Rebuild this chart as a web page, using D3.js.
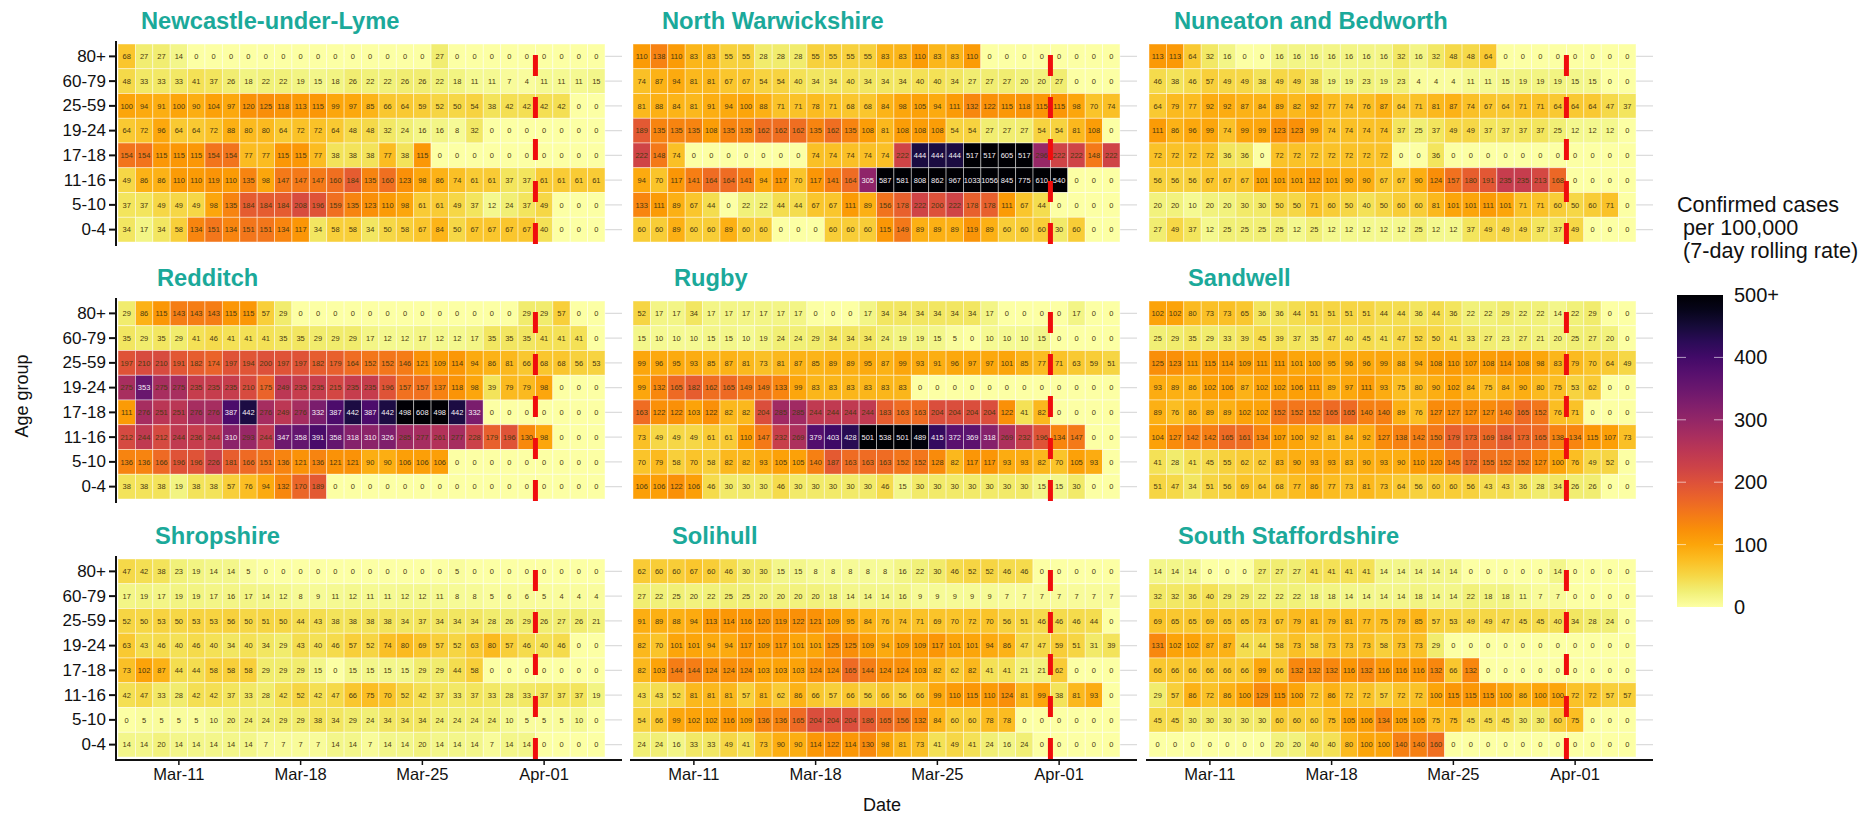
<!DOCTYPE html>
<html>
<head>
<meta charset="utf-8">
<script src="https://cdn.jsdelivr.net/npm/d3@7"></script>
<style>
  body { margin: 0; background: #fff; }
  text { font-family: "Liberation Sans", Arial, sans-serif; }
</style>
</head>
<body>
<svg id="chart" width="1872" height="816"></svg>
<script>
const ageGroups = ['80+', '60-79', '25-59', '19-24', '17-18', '11-16', '5-10', '0-4']
const legendTicks = [0, 100, 200, 300, 400, 500]
const dateTicks = [new Date(2021, 2, 11), new Date(2021, 2, 18), new Date(2021, 2, 25), new Date(2021, 3, 1)]
const dates = d3.timeDay.range(new Date(2021, 2, 8), new Date(2021, 3, 5))
const schoolsReturn = new Date(2021, 3, 1)

// each panel: one row per age group, top row first, 28 days
const newcastle = [
    [68,27,27,14,0,0,0,0,0,0,0,0,0,0,0,0,0,0,27,0,0,0,0,0,0,0,0,0],
    [48,33,33,33,41,37,26,18,22,22,19,15,18,26,22,22,26,26,22,18,11,11,7,4,11,11,11,15],
    [100,94,91,100,90,104,97,120,125,118,113,115,99,97,85,66,64,59,52,50,54,38,42,42,42,42,0,0],
    [64,72,96,64,64,72,88,80,80,64,72,72,64,48,48,32,24,16,16,8,32,0,0,0,0,0,0,0],
    [154,154,115,115,115,154,154,77,77,115,115,77,38,38,38,77,38,115,0,0,0,0,0,0,0,0,0,0],
    [49,86,86,110,110,119,110,135,98,147,147,147,160,184,135,160,123,98,86,74,61,61,37,37,61,61,61,61],
    [37,37,49,49,49,98,135,184,184,184,208,196,159,135,123,110,98,61,61,49,37,12,24,37,49,0,0,0],
    [34,17,34,58,134,151,134,151,151,134,117,34,58,58,34,50,58,67,84,50,67,67,67,67,40,0,0,0]
]
const northWarwickshire = [
    [110,138,110,83,83,55,55,28,28,28,55,55,55,55,83,83,110,83,83,110,0,0,0,0,0,0,0,0],
    [74,87,94,81,81,67,67,54,54,40,34,34,40,34,34,34,40,40,34,27,27,27,20,20,27,0,0,0],
    [81,88,84,81,91,94,100,88,71,71,78,71,68,68,84,98,105,94,111,132,122,115,118,115,115,98,70,74],
    [189,135,135,135,108,135,135,162,162,162,135,162,135,108,81,108,108,108,54,54,27,27,27,54,54,81,108,0],
    [222,148,74,0,0,0,0,0,0,0,74,74,74,74,74,222,444,444,444,517,517,605,517,296,222,222,148,222],
    [94,70,117,141,164,164,141,94,117,70,117,141,164,305,587,581,808,862,967,1033,1056,845,775,610,540,0,0,0],
    [133,111,89,67,44,0,22,22,44,44,67,67,111,89,156,178,222,200,222,178,178,111,67,44,0,0,0,0],
    [60,60,89,60,60,89,60,60,0,0,0,60,60,60,115,149,89,89,89,119,89,60,60,60,30,60,0,0]
]
const nuneaton = [
    [113,113,64,32,16,0,0,16,16,16,16,16,16,16,32,16,32,48,48,64,0,0,0,0,0,0,0,0],
    [46,38,46,57,49,49,38,49,49,38,19,19,23,19,23,4,4,4,11,11,15,19,19,19,15,15,0,0],
    [64,79,77,92,92,87,84,89,82,92,77,74,76,87,64,71,81,87,74,67,64,71,71,64,64,64,47,37],
    [111,86,96,99,74,99,99,123,123,99,74,74,74,74,37,25,37,49,49,37,37,37,37,25,12,12,12,0],
    [72,72,72,72,36,36,0,72,72,72,72,72,72,72,0,0,36,0,0,0,0,0,0,0,0,0,0,0],
    [56,56,56,67,67,67,101,101,101,112,101,90,90,67,67,90,124,157,180,191,235,235,213,168,0,0,0,0],
    [20,20,10,20,20,30,30,50,50,71,60,50,40,50,60,60,81,101,101,111,101,71,71,60,50,60,71,0],
    [27,49,37,12,25,25,25,25,12,25,12,12,12,12,12,25,12,12,37,49,49,49,37,37,49,0,0,0]
]
const redditch = [
    [29,86,115,143,143,143,115,115,57,29,0,0,0,0,0,0,0,0,0,0,0,0,0,29,29,57,0,0],
    [35,29,35,29,41,46,41,41,41,35,35,29,29,29,17,12,12,17,12,12,17,35,35,35,41,41,41,0],
    [197,210,210,191,182,174,197,194,200,197,197,182,179,164,152,152,146,121,109,114,94,86,81,66,68,68,56,53],
    [275,353,275,275,235,235,235,210,175,249,235,235,215,235,235,196,157,157,137,118,98,39,79,79,98,0,0,0],
    [111,276,251,251,276,276,387,442,276,249,276,332,387,442,387,442,498,608,498,442,332,0,0,0,0,0,0,0],
    [212,244,212,244,236,244,310,293,244,347,358,391,358,318,310,326,285,277,261,277,228,179,196,130,98,0,0,0],
    [136,136,166,196,196,226,181,166,151,136,121,136,121,121,90,90,106,106,106,0,0,0,0,0,0,0,0,0],
    [38,38,38,19,38,38,57,76,94,132,170,189,0,0,0,0,0,0,0,0,0,0,0,0,0,0,0,0]
]
const rugby = [
    [52,17,17,34,17,17,17,17,17,17,0,0,0,17,34,34,34,34,34,34,17,0,0,0,0,17,0,0],
    [15,10,10,10,15,15,10,19,24,24,29,34,34,34,24,19,19,15,5,0,10,10,10,15,0,0,0,0],
    [99,96,95,93,85,87,81,73,81,87,85,89,89,95,87,99,93,91,96,97,97,101,85,77,71,63,59,51],
    [99,132,165,182,162,165,149,149,133,99,83,83,83,83,83,83,0,0,0,0,0,0,0,0,0,0,0,0],
    [163,122,122,103,122,82,82,204,285,285,244,244,244,244,183,163,163,204,204,204,204,122,41,82,0,0,0,0],
    [73,49,49,49,61,61,110,147,232,269,379,403,428,501,538,501,489,415,372,369,318,269,232,196,134,147,0,0],
    [70,79,58,70,58,82,82,93,105,105,140,187,163,163,163,152,152,128,82,117,117,93,93,82,70,105,93,0],
    [106,106,122,106,46,30,30,30,46,30,30,30,30,30,46,15,30,30,30,30,30,30,30,15,15,30,0,0]
]
const sandwell = [
    [102,102,80,73,73,65,36,36,44,51,51,51,51,44,44,36,44,36,22,22,29,22,22,14,22,29,0,0],
    [25,29,35,29,33,39,45,39,37,35,47,40,45,41,47,52,50,41,33,27,23,27,21,20,25,27,20,0],
    [125,123,111,115,114,109,111,111,101,100,95,96,96,99,88,94,108,110,107,108,114,108,98,83,79,70,64,49],
    [93,89,86,102,106,87,102,102,106,111,89,97,111,93,75,80,90,102,84,75,84,90,80,75,53,62,0,0],
    [89,76,86,89,89,102,102,152,152,152,165,165,140,140,89,76,127,127,127,127,140,165,152,76,71,0,0,0],
    [104,127,142,142,165,161,134,107,100,92,81,84,92,127,138,142,150,179,173,169,184,173,165,138,134,115,107,73],
    [41,28,41,45,55,62,62,83,90,93,93,83,90,93,90,110,120,145,172,155,152,152,127,100,76,49,52,0],
    [51,47,34,51,56,69,64,68,77,86,77,73,81,73,64,56,60,60,56,43,43,36,28,34,26,26,0,0]
]
const shropshire = [
    [47,42,38,23,19,14,14,5,0,0,0,0,0,0,0,0,0,0,0,5,0,0,0,0,0,0,0,0],
    [17,19,17,19,19,17,16,17,14,12,8,9,11,12,11,11,12,12,11,8,8,5,6,6,5,4,4,4],
    [52,50,53,50,53,53,56,50,51,50,44,43,38,38,38,38,34,37,34,34,34,28,26,29,26,27,26,21],
    [63,43,46,40,46,40,34,40,34,29,43,40,46,57,52,74,80,69,57,52,63,80,57,46,40,46,0,0],
    [73,102,87,44,44,58,58,58,29,29,29,15,0,15,15,15,15,29,29,44,58,0,0,0,0,0,0,0],
    [42,47,33,28,42,42,37,33,28,42,52,42,47,66,75,70,52,42,37,33,37,33,28,33,37,37,37,19],
    [0,5,5,5,5,10,20,24,24,29,29,38,34,29,24,34,34,34,24,24,24,24,10,5,5,5,10,0],
    [14,14,20,14,14,14,14,14,7,7,7,7,14,14,7,14,14,20,14,14,14,7,14,14,0,0,0,0]
]
const solihull = [
    [62,60,60,67,60,46,30,30,15,15,8,8,8,8,8,16,22,30,46,52,52,46,46,0,0,0,0,0],
    [27,22,25,20,22,25,25,20,20,20,20,18,14,14,14,16,9,9,9,9,9,7,7,7,7,7,7,7],
    [91,89,88,94,113,114,116,120,119,122,121,109,95,84,76,74,71,69,70,72,70,56,51,46,46,46,44,0],
    [82,70,101,101,94,94,117,109,117,101,101,125,125,109,94,109,109,117,101,101,94,86,47,47,59,51,31,39],
    [82,103,144,144,124,124,124,103,103,103,124,124,165,144,124,124,103,82,62,82,41,41,21,21,62,0,0,0],
    [43,43,52,81,81,81,57,81,62,86,66,57,66,56,66,56,66,99,110,115,110,124,81,99,38,81,93,0],
    [54,66,99,102,102,116,109,136,136,165,204,204,204,186,165,156,132,84,60,60,78,78,0,0,0,0,0,0],
    [24,24,16,33,33,49,41,73,90,90,114,122,114,130,98,81,73,41,49,41,24,16,24,0,0,0,0,0]
]
const southStaffordshire = [
    [14,14,14,0,0,0,27,27,27,41,41,41,41,14,14,14,14,14,0,0,0,0,0,14,0,0,0,0],
    [32,32,36,40,29,29,22,22,22,18,18,14,14,14,14,18,14,14,22,18,18,11,7,7,0,0,0,0],
    [69,65,65,69,65,65,73,67,79,81,79,81,77,75,79,85,57,53,49,49,47,45,45,40,34,28,24,0],
    [131,102,102,87,87,44,44,58,73,58,73,73,73,58,73,73,29,0,0,0,0,0,0,0,0,0,0,0],
    [66,66,66,66,66,66,99,66,132,132,132,116,132,116,116,116,132,66,132,0,0,0,0,0,0,0,0,0],
    [29,57,86,72,86,100,129,115,100,72,86,72,72,57,72,72,100,115,115,115,100,86,100,100,72,72,57,57],
    [45,45,30,30,30,30,30,60,60,60,75,105,106,134,105,105,75,75,45,45,45,30,30,60,75,0,0,0],
    [0,0,0,0,0,0,0,20,20,40,40,80,100,100,140,140,160,0,0,0,0,0,0,0,0,0,0,0]
]

const panelNames = ['Newcastle-under-Lyme', 'North Warwickshire', 'Nuneaton and Bedworth', 'Redditch', 'Rugby', 'Sandwell', 'Shropshire', 'Solihull', 'South Staffordshire']
const panelValues = [newcastle, northWarwickshire, nuneaton, redditch, rugby, sandwell, shropshire, solihull, southStaffordshire]

const svg = d3.select('#chart')

const colLefts = [118, 633, 1149]
const rowTops = [44, 301, 559]
const titleLefts = [141, 662, 1174, 157, 674, 1188, 155, 672, 1178]
const panelW = 487
const panelH = 198

const x = d3.scaleBand().domain(dates).range([0, panelW])
const y = d3.scaleBand().domain(ageGroups).range([0, panelH])
const fill = d3.scaleSequential(t => d3.interpolateInferno(1 - t)).domain([0, 500]).clamp(true)

panelNames.forEach((name, i) => {
    const col = i % 3
    const row = Math.floor(i / 3)
    const g = svg.append('g').attr('transform', `translate(${colLefts[col]},${rowTops[row]})`)
    const cells = []
    ageGroups.forEach((age, a) => {
        dates.forEach((date, d) => cells.push({ age, date, value: panelValues[i][a][d] }))
    })

    g.append('g').selectAll('line').data(ageGroups).join('line')
        .attr('x1', 0).attr('x2', panelW + 17)
        .attr('y1', d => y(d) + y.bandwidth() / 2).attr('y2', d => y(d) + y.bandwidth() / 2)
        .attr('stroke', '#dcdcdc').attr('stroke-width', 1.2)

    g.append('g').selectAll('rect').data(cells).join('rect')
        .attr('x', d => x(d.date)).attr('y', d => y(d.age))
        .attr('width', x.bandwidth()).attr('height', y.bandwidth())
        .attr('fill', d => fill(d.value))
        .attr('stroke', '#fff').attr('stroke-opacity', 0.55).attr('stroke-width', 0.8)

    g.append('g').selectAll('text').data(cells).join('text')
        .attr('x', d => x(d.date) + x.bandwidth() / 2)
        .attr('y', d => y(d.age) + y.bandwidth() / 2 + 2.8)
        .attr('text-anchor', 'middle')
        .attr('font-size', 7.5)
        .attr('fill', d => d.value >= 300 ? '#f4eef4' : '#4a3a10')
        .text(d => d.value)

    // dashed marker, drawn upwards from the bottom of the panel
    g.append('line')
        .attr('x1', x(schoolsReturn)).attr('x2', x(schoolsReturn))
        .attr('y1', panelH + 2).attr('y2', -3)
        .attr('stroke', '#f00d0d').attr('stroke-width', 5)
        .attr('stroke-dasharray', '21 21')

    if (col === 0) {
        const yAxis = g.append('g').attr('transform', 'translate(-2,0)')
            .call(d3.axisLeft(y).tickSize(7).tickPadding(3))
        yAxis.select('.domain').remove()
        yAxis.selectAll('.tick line').attr('stroke', '#111').attr('stroke-width', 2)
        yAxis.selectAll('.tick text').attr('font-size', 17).attr('fill', '#111')
            .style('font-family', '"Liberation Sans", Arial, sans-serif')
        g.append('line').attr('x1', -2).attr('x2', -2).attr('y1', -3).attr('y2', panelH + 4)
            .attr('stroke', '#111').attr('stroke-width', 2)
    }
    if (row === 2) {
        const xAxis = g.append('g').attr('transform', `translate(0,${panelH + 3})`)
            .call(d3.axisBottom(x).tickValues(dateTicks).tickFormat(d3.timeFormat('%b-%d')).tickSize(5).tickPadding(3))
        xAxis.select('.domain').remove()
        xAxis.selectAll('.tick line').attr('stroke', '#111').attr('stroke-width', 1.5)
        xAxis.selectAll('.tick text').attr('font-size', 16.5).attr('fill', '#111')
            .style('font-family', '"Liberation Sans", Arial, sans-serif')
        g.append('line').attr('x1', -3).attr('x2', panelW + 17).attr('y1', panelH + 3).attr('y2', panelH + 3)
            .attr('stroke', '#111').attr('stroke-width', 2)
    }

    svg.append('text')
        .attr('x', titleLefts[i])
        .attr('y', rowTops[row] - 15)
        .attr('font-size', 23.7)
        .attr('font-weight', 'bold')
        .attr('fill', '#1ba99a')
        .text(name)
})

svg.append('text').attr('x', 882).attr('y', 811).attr('text-anchor', 'middle')
    .attr('font-size', 18).attr('fill', '#111').text('Date')
svg.append('text').attr('transform', 'translate(28,396) rotate(-90)').attr('text-anchor', 'middle')
    .attr('font-size', 18).attr('fill', '#111').text('Age group')

// colour legend
const legendY = d3.scaleLinear().domain([0, 500]).range([607, 295])
const legendX = 1677
const legendW = 46

const grad = svg.append('defs').append('linearGradient').attr('id', 'legend-grad')
    .attr('x1', 0).attr('x2', 0).attr('y1', 1).attr('y2', 0)
grad.selectAll('stop').data(d3.range(0, 501, 25)).join('stop')
    .attr('offset', d => d / 500)
    .attr('stop-color', d => fill(d))

svg.append('rect').attr('x', legendX).attr('y', legendY(500))
    .attr('width', legendW).attr('height', legendY(0) - legendY(500))
    .attr('fill', 'url(#legend-grad)')

const legendG = svg.append('g')
legendTicks.forEach(t => {
    if (t > 0 && t < 500) {
        legendG.append('line').attr('x1', legendX).attr('x2', legendX + 9).attr('y1', legendY(t)).attr('y2', legendY(t))
            .attr('stroke', '#fff').attr('stroke-opacity', 0.6)
        legendG.append('line').attr('x1', legendX + legendW - 9).attr('x2', legendX + legendW).attr('y1', legendY(t)).attr('y2', legendY(t))
            .attr('stroke', '#fff').attr('stroke-opacity', 0.6)
    }
    legendG.append('text').attr('x', 1734).attr('y', legendY(t) + 7)
        .attr('font-size', 20).attr('fill', '#111')
        .text(t === 500 ? '500+' : t)
})

const legendLines = ['Confirmed cases', ' per 100,000', ' (7-day rolling rate)']
legendLines.forEach((l, i) => {
    svg.append('text').attr('x', i === 0 ? 1677 : 1683).attr('y', 212 + i * 23)
        .attr('font-size', 21.6).attr('fill', '#111').text(l.trim())
})
</script>
</body>
</html>
